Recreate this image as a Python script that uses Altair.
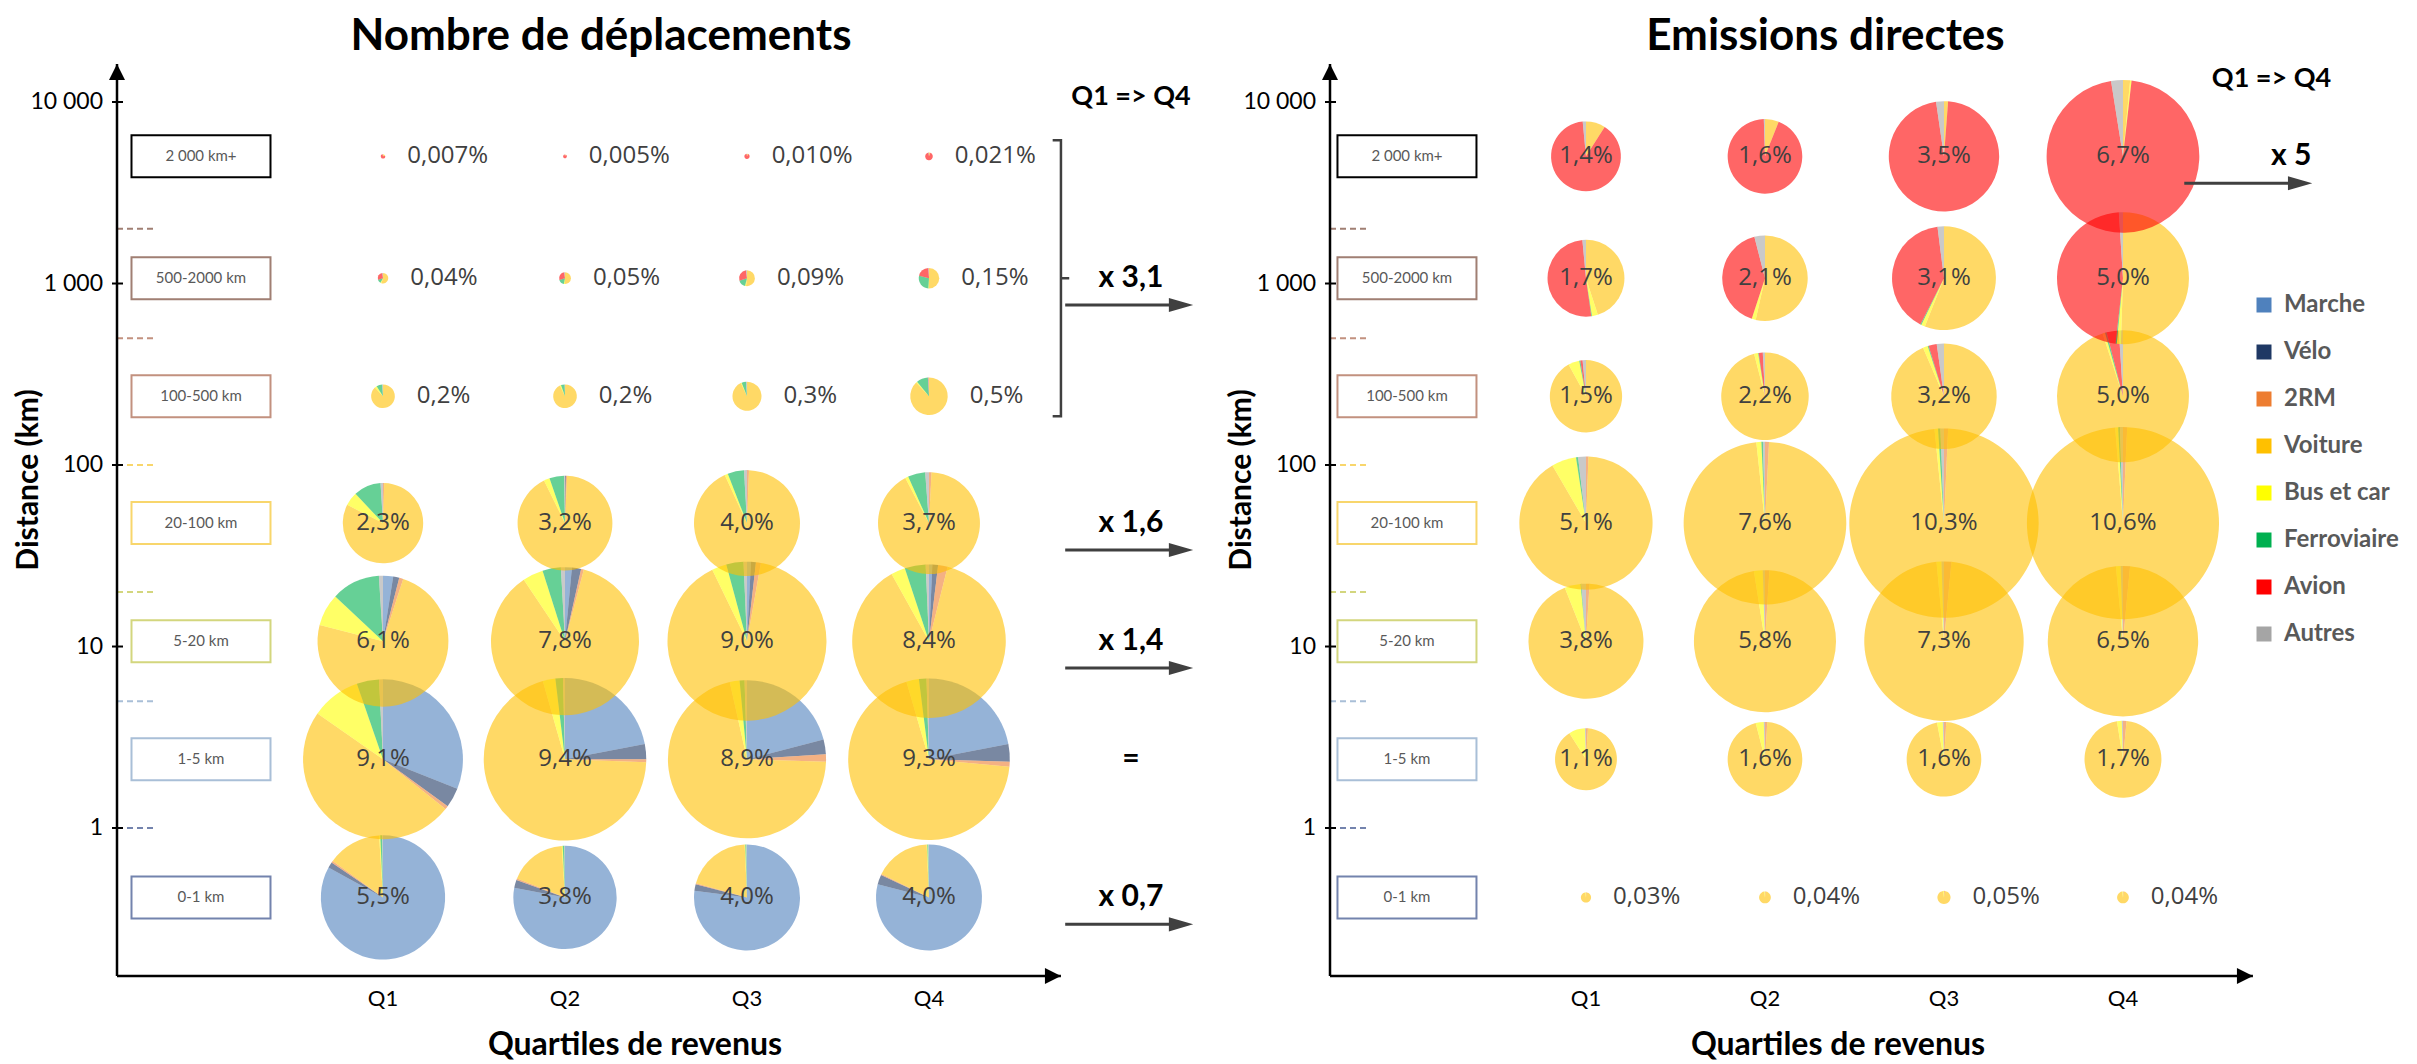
import math
import altair as alt
import pandas as pd

# ---------------- data ----------------
quartiles = [1, 2, 3, 4]
quartile_labels = ["Q1", "Q2", "Q3", "Q4"]
bands = ["0-1 km", "1-5 km", "5-20 km", "20-100 km", "100-500 km", "500-2000 km", "2 000 km+"]
band_edges_km = [0.15, 1, 5, 20, 100, 500, 2000, 11000]
band_colors = ["#7383ad", "#a9bfd7", "#d3d67e", "#f8d66c", "#c2917f", "#a07f73", "#000000"]
modes = ["Marche", "Vélo", "2RM", "Voiture", "Bus et car", "Ferroviaire", "Avion", "Autres"]
mode_colors = ["#4f81bd", "#1f3864", "#ed7d31", "#ffc000", "#ffff00", "#00b050", "#ff0000", "#a5a5a5"]
y_ticks = [1, 10, 100, 1000, 10000]
y_tick_labels = ["1", "10", "100", "1 000", "10 000"]

# Nombre de déplacements (% of all trips), Q1..Q4
trips_0_1 = [5.5, 3.8, 4.0, 4.0]
trips_1_5 = [9.1, 9.4, 8.9, 9.3]
trips_5_20 = [6.1, 7.8, 9.0, 8.4]
trips_20_100 = [2.3, 3.2, 4.0, 3.7]
trips_100_500 = [0.2, 0.2, 0.3, 0.5]
trips_500_2000 = [0.04, 0.05, 0.09, 0.15]
trips_2000p = [0.007, 0.005, 0.010, 0.021]
trips_decimals = [1, 1, 1, 1, 1, 2, 3]

# Emissions directes (% of all emissions), Q1..Q4
emis_0_1 = [0.03, 0.04, 0.05, 0.04]
emis_1_5 = [1.1, 1.6, 1.6, 1.7]
emis_5_20 = [3.8, 5.8, 7.3, 6.5]
emis_20_100 = [5.1, 7.6, 10.3, 10.6]
emis_100_500 = [1.5, 2.2, 3.2, 5.0]
emis_500_2000 = [1.7, 2.1, 3.1, 5.0]
emis_2000p = [1.4, 1.6, 3.5, 6.7]
emis_decimals = [2, 1, 1, 1, 1, 1, 1]

# modal mix (%), order = modes, one list per quartile
trips_mix_0_1 = [[83, 1.5, 0.5, 14, 0.3, 0.5, 0, 0.2], [78, 2.5, 0.5, 18, 0.3, 0.5, 0, 0.2],
                 [77, 2, 0.3, 20, 0.2, 0.3, 0, 0.2], [79, 3, 0.3, 17, 0.2, 0.3, 0, 0.2]]
trips_mix_1_5 = [[31, 4, 0.7, 49, 10, 4.5, 0, 0.8], [22, 3, 0.6, 70, 2.5, 1.5, 0, 0.4],
                 [21, 3, 1.5, 71, 2, 1, 0, 0.5], [22, 3.5, 1, 69, 2.5, 1.5, 0, 0.5]]
trips_mix_5_20 = [[2.5, 1.5, 1, 74, 8, 12, 0, 1], [1.5, 2, 0.6, 86.5, 4.5, 4, 0, 0.9],
                  [0.8, 1, 1, 90, 3, 3.5, 0, 0.7], [0.7, 1.2, 2, 88, 3, 4.4, 0, 0.7]]
trips_mix_20_100 = [[0, 0, 0.5, 82, 5.5, 11, 0, 1], [0, 0.3, 0.4, 92, 2, 5, 0, 0.3],
                    [0, 0, 0.6, 92.5, 1, 5, 0, 0.9], [0, 0, 0.8, 91.5, 1, 5.5, 0, 1.2]]
trips_mix_100_500 = [[0, 0, 0, 88, 3, 8, 0, 1], [0, 0, 0, 93, 1.5, 5, 0, 0.5],
                     [0, 0, 0, 93, 1, 5, 0, 1], [0, 0, 0, 88, 1, 10, 0.5, 0.5]]
trips_mix_500_2000 = [[0, 0, 0, 55, 3, 12, 28, 2], [0, 0, 0, 50, 3, 17, 28, 2],
                      [0, 0, 0, 52, 2, 16, 28, 2], [0, 0, 0, 50, 1, 28, 20, 1]]
trips_mix_2000p = [[0, 0, 0, 20, 0, 0, 78, 2], [0, 0, 0, 8, 0, 0, 90, 2],
                   [0, 0, 0, 8, 0, 0, 90, 2], [0, 0, 0, 6, 0, 0, 92, 2]]

emis_mix_0_1 = [[0, 0, 2, 96, 2, 0, 0, 0], [0, 0, 2, 96, 2, 0, 0, 0],
                [0, 0, 2, 96, 2, 0, 0, 0], [0, 0, 2, 96, 2, 0, 0, 0]]
emis_mix_1_5 = [[0, 0, 1, 90, 8.5, 0, 0, 0.5], [0, 0, 1, 95, 3.5, 0, 0, 0.5],
                [0, 0, 1, 96, 2.5, 0, 0, 0.5], [0, 0, 1.5, 96, 2, 0, 0, 0.5]]
emis_mix_5_20 = [[0, 0, 1, 93, 4.5, 0.2, 0, 1.3], [0, 0, 1, 96.5, 2, 0, 0, 0.5],
                 [0, 0, 1.5, 97, 1, 0, 0, 0.5], [0, 0, 1.5, 97, 1, 0, 0, 0.5]]
emis_mix_20_100 = [[0, 0, 0.6, 91, 6, 0.5, 0, 1.9], [0, 0, 0.8, 97.5, 1, 0.3, 0, 0.4],
                   [0, 0, 0.7, 97.7, 0.6, 0.4, 0, 0.6], [0, 0, 0.7, 98, 0.5, 0.3, 0, 0.5]]
emis_mix_100_500 = [[0, 0, 0, 92, 5, 0.5, 1, 1.5], [0, 0, 0, 96, 1.5, 0.2, 1.5, 0.8],
                    [0, 0, 0, 93.5, 1.5, 0.3, 2.5, 2.2], [0, 0, 0, 95, 0.6, 0.4, 3, 1]]
emis_mix_500_2000 = [[0, 0, 0, 45, 2.5, 0.3, 50.7, 1.5], [0, 0, 0, 53.5, 1.5, 0, 41, 4],
                     [0, 0, 0, 56, 1.2, 0.3, 40.5, 2], [0, 0, 0, 50.5, 1, 0.3, 47.2, 1]]
emis_mix_2000p = [[0, 0, 0, 9, 0, 0, 89.5, 1.5], [0, 0, 0, 6, 0, 0, 93.5, 0.5],
                  [0, 0, 0, 1.2, 0, 0, 96.5, 2.3], [0, 0, 0, 1.5, 0.3, 0, 95.7, 2.5]]

trips_notes = ["x 3,1", "x 1,6", "x 1,4", "=", "x 0,7"]
trips_note_bands = ["500-2000 km", "20-100 km", "5-20 km", "1-5 km", "0-1 km"]
trips_note_arrow = [True, True, True, False, True]
emis_notes = ["x 5"]
emis_note_bands = ["2 000 km+"]
emis_note_arrow = [True]

# ---------------- layout / style ----------------
FONT = "Lato"
PCT_FONT = "Open Sans"
Y_DOM = [0.153, 16196]
PLOT_H = 912
BOX_SHAPE = "M-1,-0.302L1,-0.302L1,0.302L-1,0.302Z"
ARROW_SHAPE = "M-1,0.397L0.62,0.397L0.62,0.31L1,0.42L0.62,0.53L0.62,0.443L-1,0.443Z"
UP_HEAD = "M0,0L1,2L-1,2Z"
RIGHT_HEAD = "M0,0L-2,-1L-2,1Z"
BRACKET = "M-0.06,-1L0,-1L0,1L-0.06,1M0,0L0.06,0"


def mid_km(i):
    return math.sqrt(band_edges_km[i] * band_edges_km[i + 1]) * 1.07


def pie_table(pcts, mixes):
    rows = []
    for b, band in enumerate(bands):
        for qi, q in enumerate(quartiles):
            mix = mixes[b][qi]
            tot = float(sum(mix))
            acc = 0.0
            for m, share in zip(modes, mix):
                w = 100.0 * share / tot
                if w > 0:
                    rows.append({"band": band, "q": q, "km": mid_km(b), "pct": pcts[b][qi],
                                 "mode": m, "t0": acc, "t1": acc + w})
                acc += w
    return pd.DataFrame(rows)


def label_table(pcts, decimals):
    rows = []
    for b, band in enumerate(bands):
        for qi, q in enumerate(quartiles):
            v = pcts[b][qi]
            txt = f"{v:.{decimals[b]}f}".replace(".", ",") + "%"
            rows.append({"band": band, "q": q, "km": mid_km(b), "pct": v, "label": txt, "outside": v < 1})
    return pd.DataFrame(rows)


edges_df = pd.DataFrame({"km": band_edges_km[1:-1], "band": bands[:-1]})
boxes_df = pd.DataFrame({"band": bands, "km": [mid_km(i) for i in range(len(bands))]})
ticks_df = pd.DataFrame({"km": y_ticks, "label": y_tick_labels})
q_df = pd.DataFrame({"q": quartiles, "label": quartile_labels})
dummy = pd.DataFrame({"a": [0]})

LEGEND = alt.Legend(title=None, orient="none", legendX=2135, legendY=229, symbolType="square",
                    symbolSize=225, symbolOpacity=1, symbolStrokeWidth=0, labelFont=FONT,
                    labelFontSize=24, labelFontWeight="bold", labelColor="#595959",
                    rowPadding=23, labelOffset=8, direction="vertical")


def build_panel(title, title_dx, pcts, decimals, mixes, x_dom, px_per_q, r_max, xtitle_x,
                notes, note_bands, note_arrow, note_x, arrow_x, qq_x, qq_dy, bracket_x=None):
    width = (x_dom[1] - x_dom[0]) * px_per_q
    xs = alt.Scale(domain=x_dom, nice=False, zero=False)
    ys = alt.Scale(type="log", domain=Y_DOM, nice=False)
    rs = alt.Scale(type="sqrt", domain=[0, 16], range=[0, r_max], zero=True)
    ts = alt.Scale(domain=[0, 100], range=[0, 2 * math.pi])
    stroke_s = alt.Scale(domain=bands, range=band_colors)

    def X(f):
        return alt.X(f, scale=xs, axis=None)

    def Y(f):
        return alt.Y(f, scale=ys, axis=None)

    def XD(v):
        return alt.XDatum(v, scale=xs, axis=None)

    def YD(v):
        return alt.YDatum(v, scale=ys, axis=None)

    pies_df = pie_table(pcts, mixes)
    lab_df = label_table(pcts, decimals)
    notes_df = pd.DataFrame({"note": notes, "km": [mid_km(bands.index(b)) for b in note_bands],
                             "arrow": note_arrow})

    layers = []
    # band separators and band boxes
    layers.append(alt.Chart(edges_df).mark_rule(strokeDash=[6, 4], strokeWidth=2).encode(
        x=alt.value(0), x2=alt.value(37), y=Y("km:Q"),
        stroke=alt.Stroke("band:N", scale=stroke_s, legend=None)))
    layers.append(alt.Chart(boxes_df).mark_point(shape=BOX_SHAPE, size=19321, filled=False,
                                                 strokeWidth=2, opacity=1).encode(
        x=XD(0), y=Y("km:Q"), stroke=alt.Stroke("band:N", scale=stroke_s, legend=None)))
    layers.append(alt.Chart(boxes_df).mark_text(font=FONT, fontSize=15, color="#595959").encode(
        x=XD(0), y=Y("km:Q"), text="band:N"))
    # axes drawn as marks
    layers.append(alt.Chart(dummy).mark_rule(color="black", strokeWidth=2.5).encode(
        x=XD(x_dom[0]), y=YD(Y_DOM[0]), y2=alt.Y2Datum(Y_DOM[1])))
    layers.append(alt.Chart(dummy).mark_rule(color="black", strokeWidth=2.5).encode(
        y=YD(Y_DOM[0]), x=XD(x_dom[0]), x2=alt.X2Datum(x_dom[1])))
    layers.append(alt.Chart(ticks_df).mark_rule(color="black", strokeWidth=2).encode(
        y=Y("km:Q"), x=alt.value(-5), x2=alt.value(6)))
    layers.append(alt.Chart(ticks_df).mark_text(font=FONT, fontSize=23, color="black", align="right",
                                                baseline="middle").encode(
        y=Y("km:Q"), x=alt.value(-14), text="label:N"))
    layers.append(alt.Chart(q_df).mark_text(font=FONT, fontSize=22, color="black",
                                            baseline="middle").encode(
        x=X("q:Q"), y=alt.value(PLOT_H + 23), text="label:N"))
    layers.append(alt.Chart(dummy).mark_text(text="Quartiles de revenus", font=FONT, fontSize=32,
                                             fontWeight="bold", color="black", baseline="middle").encode(
        x=alt.value(xtitle_x), y=alt.value(PLOT_H + 69)))
    layers.append(alt.Chart(dummy).mark_text(text="Distance (km)", font=FONT, fontSize=30, angle=270,
                                             fontWeight="bold", color="black", baseline="middle").encode(
        x=alt.value(-88), y=alt.value(416)))
    layers.append(alt.Chart(dummy).mark_point(shape=UP_HEAD, size=256, filled=True, color="black",
                                              opacity=1, strokeWidth=0).encode(
        x=XD(x_dom[0]), y=YD(Y_DOM[1])))
    layers.append(alt.Chart(dummy).mark_point(shape=RIGHT_HEAD, size=256, filled=True, color="black",
                                              opacity=1, strokeWidth=0).encode(
        x=XD(x_dom[1]), y=YD(Y_DOM[0])))
    # pies
    layers.append(alt.Chart(pies_df).mark_arc(opacity=0.6).encode(
        x=X("q:Q"), y=Y("km:Q"),
        theta=alt.Theta("t0:Q", scale=ts),
        theta2="t1:Q",
        radius=alt.Radius("pct:Q", scale=rs),
        color=alt.Color("mode:N", scale=alt.Scale(domain=modes, range=mode_colors), legend=LEGEND)))
    layers.append(alt.Chart(lab_df[~lab_df["outside"]]).mark_text(
        font=PCT_FONT, fontSize=24, color="#404040", baseline="middle").encode(
        x=X("q:Q"), y=Y("km:Q"), text="label:N"))
    layers.append(alt.Chart(lab_df[lab_df["outside"]]).mark_text(
        font=PCT_FONT, fontSize=24, color="#404040", baseline="middle", align="left",
        theta=math.pi / 2, radiusOffset=22).encode(
        x=X("q:Q"), y=Y("km:Q"), radius=alt.Radius("pct:Q", scale=rs), text="label:N"))
    # Q1 => Q4 annotations
    layers.append(alt.Chart(dummy).mark_text(text="Q1 => Q4", font=FONT, fontSize=27, fontWeight="bold",
                                             color="black", dy=qq_dy).encode(
        x=XD(qq_x), y=YD(10000)))
    layers.append(alt.Chart(notes_df).mark_text(font=FONT, fontSize=30, fontWeight="bold",
                                                color="black").encode(
        x=XD(note_x), y=Y("km:Q"), text="note:N"))
    layers.append(alt.Chart(notes_df[notes_df["arrow"]]).mark_point(
        shape=ARROW_SHAPE, size=16384, filled=True, color="#404040", opacity=1, strokeWidth=0).encode(
        x=XD(arrow_x), y=Y("km:Q")))
    if bracket_x is not None:
        layers.append(alt.Chart(dummy).mark_point(shape=BRACKET, size=76176, filled=False,
                                                  strokeWidth=2.5, color="#404040", opacity=1).encode(
            x=XD(bracket_x), y=YD(mid_km(5))))

    return alt.layer(*layers).properties(
        width=width, height=PLOT_H,
        title=alt.TitleParams(text=title, fontSize=44, font=FONT, fontWeight="bold", color="black",
                              anchor="middle", frame="group", dx=title_dx, offset=4))


left = build_panel(
    "Nombre de déplacements", 12,
    [trips_0_1, trips_1_5, trips_5_20, trips_20_100, trips_100_500, trips_500_2000, trips_2000p],
    trips_decimals,
    [trips_mix_0_1, trips_mix_1_5, trips_mix_5_20, trips_mix_20_100, trips_mix_100_500,
     trips_mix_500_2000, trips_mix_2000p],
    [-0.4615, 4.725], 182, 26.5 * 4, 518,
    trips_notes, trips_note_bands, trips_note_arrow, 5.11, 5.10, 5.11, -5, bracket_x=4.725)

right = build_panel(
    "Emissions directes", 34,
    [emis_0_1, emis_1_5, emis_5_20, emis_20_100, emis_100_500, emis_500_2000, emis_2000p],
    emis_decimals,
    [emis_mix_0_1, emis_mix_1_5, emis_mix_5_20, emis_mix_20_100, emis_mix_100_500,
     emis_mix_500_2000, emis_mix_2000p],
    [-0.430, 4.726], 179, 29.5 * 4, 508,
    emis_notes, emis_note_bands, emis_note_arrow, 4.94, 4.70, 4.83, -23)

chart = alt.hconcat(left, right, spacing=269, bounds="flush").resolve_scale(
    radius="independent").properties(
    padding={"left": 6, "top": 6, "right": 0, "bottom": 0}, background="white"
).configure_view(strokeWidth=0)

chart.save("out.html", embed_options={"renderer": "svg", "actions": False})
